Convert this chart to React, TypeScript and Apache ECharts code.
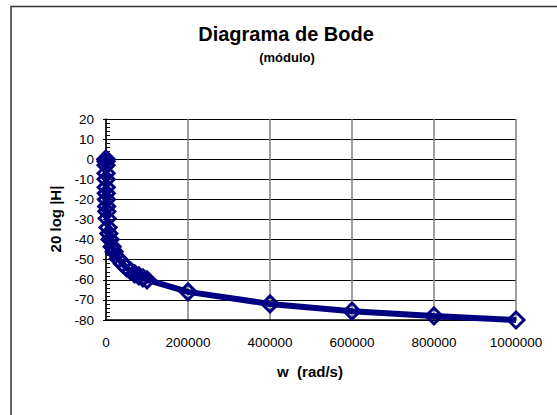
import React, { useEffect, useRef } from "react";
import * as echarts from "echarts";

const omega: number[] = [1, 10, 50, 100, 200, 300, 500, 700, 1000, 1500, 2000, 3000, 5000, 7000, 10000, 15000, 20000, 30000, 40000, 50000, 60000, 70000, 80000, 90000, 100000, 200000, 400000, 600000, 800000, 1000000];
const magnitudeDb: number[] = [0, 0, -1, -3, -7, -10, -14, -17, -20, -23.5, -26, -29.5, -34, -37, -40, -43.5, -46, -49.5, -52, -54, -55.6, -57, -58, -59, -60, -66, -72, -75.6, -78, -80];

const titleText = "Diagrama de Bode";
const subtitleText = "(módulo)";
const xName = "w  (rad/s)";
const yName = "20 log |H|";

const FONT = "'Liberation Sans', Arial, Helvetica, sans-serif";
const NAVY = "#000080";

export default function App() {
  const ref = useRef<HTMLDivElement>(null);
  useEffect(() => {
    if (!ref.current) return;
    const chart = echarts.init(ref.current, undefined, { renderer: "svg" });
    const data = omega.map((w, i) => [w, magnitudeDb[i]]);
    chart.setOption({
      animation: false,
      backgroundColor: "#ffffff",
      textStyle: { fontFamily: FONT },
      grid: { left: 106, right: 41, top: 119, bottom: 95, containLabel: false },
      xAxis: {
        type: "value",
        min: 0,
        max: 1000000,
        interval: 200000,
        axisLine: { show: true, onZero: false, lineStyle: { color: "#000", width: 1.5 } },
        axisTick: { show: false },
        axisLabel: { color: "#000", fontSize: 13.5, fontFamily: FONT, margin: 15, formatter: (v: number) => String(v) },
        splitLine: { show: true, lineStyle: { color: "#808080", width: 1.5 } },
      },
      yAxis: [
        {
          type: "value",
          min: -80,
          max: 20,
          interval: 10,
          axisLine: { show: true, onZero: false, lineStyle: { color: "#000", width: 1.5 } },
          axisTick: { show: true, inside: false, length: 3, lineStyle: { color: "#000" } },
          axisLabel: { color: "#000", fontSize: 13.5, fontFamily: FONT, margin: 12 },
          splitLine: { show: true, lineStyle: { color: "#000", width: 1 } },
        },
        {
          type: "value",
          position: "left",
          min: -80,
          max: 20,
          interval: 2,
          axisLine: { show: false },
          axisTick: { show: true, inside: true, length: 4, lineStyle: { color: "#000" } },
          axisLabel: { show: false },
          splitLine: { show: false },
        },
      ],
      graphic: [
        {
          type: "rect",
          shape: { x: 11, y: 6.5, width: 700, height: 600 },
          style: { fill: "none", stroke: "#333", lineWidth: 1.5 },
          silent: true,
        },
        {
          type: "text",
          x: 286,
          y: 34,
          style: { text: titleText, font: `bold 20px ${FONT}`, fill: "#000", textAlign: "center", textVerticalAlign: "middle" },
        },
        {
          type: "text",
          x: 287,
          y: 57,
          style: { text: subtitleText, font: `bold 13px ${FONT}`, fill: "#000", textAlign: "center", textVerticalAlign: "middle" },
        },
        {
          type: "text",
          x: 310,
          y: 371,
          style: { text: xName, font: `bold 15px ${FONT}`, fill: "#000", textAlign: "center", textVerticalAlign: "middle" },
        },
        {
          type: "text",
          x: 55,
          y: 219,
          rotation: Math.PI / 2,
          style: { text: yName, font: `bold 15px ${FONT}`, fill: "#000", textAlign: "center", textVerticalAlign: "middle" },
        },
      ],
      series: [
        {
          type: "line",
          data,
          yAxisIndex: 0,
          symbol: "diamond",
          symbolSize: 16,
          showAllSymbol: true,
          lineStyle: { color: NAVY, width: 6 },
          itemStyle: { color: "transparent", borderColor: NAVY, borderWidth: 3 },
          emphasis: { disabled: true },
        },
      ],
    });
    return () => chart.dispose();
  }, []);
  return <div ref={ref} style={{ position: "fixed", left: 0, top: 0, width: 557, height: 415 }} />;
}
